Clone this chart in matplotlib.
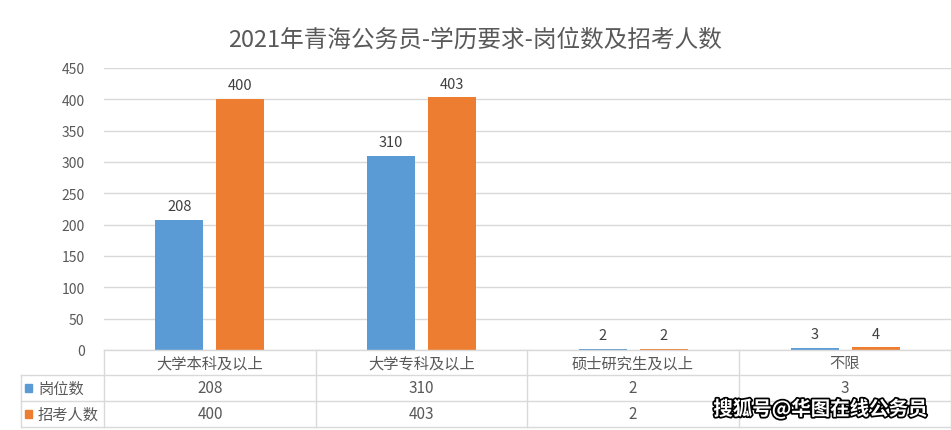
import matplotlib.pyplot as plt
import matplotlib.patheffects as pe
import numpy as np
from matplotlib.lines import Line2D
from matplotlib.patches import Rectangle

plt.rcParams['font.family'] = ['Noto Sans CJK SC', 'DejaVu Sans']

categories = ['大学本科及以上', '大学专科及以上', '硕士研究生及以上', '不限']
series_names = ['岗位数', '招考人数']
posts = [208, 310, 2, 3]
applicants = [400, 403, 2, 4]
yticks = [0, 50, 100, 150, 200, 250, 300, 350, 400, 450]

blue = '#5B9BD5'
orange = '#ED7D31'
txt = '#595959'
grid = '#D9D9D9'

W, H = 951, 431
fig = plt.figure(figsize=(W / 100, H / 100), dpi=100)

def fx(px):
    return px / W

def fy(py):
    return 1 - py / H

ax = fig.add_axes([fx(104), fy(351), fx(951) - fx(104), fy(69) - fy(351)])
x = np.arange(len(categories))
bw = 0.226
off = 0.144
b1 = ax.bar(x - off, posts, bw, color=blue)
b2 = ax.bar(x + off, applicants, bw, color=orange)
for bars, vals in ((b1, posts), (b2, applicants)):
    for r, v in zip(bars, vals):
        ax.annotate(str(v), (r.get_x() + r.get_width() / 2, v), xytext=(0, 5),
                    textcoords='offset points', ha='center', va='bottom',
                    fontsize=10.5, color='#404040')

ax.set_xlim(-0.5, len(categories) - 0.5)
ax.set_ylim(0, 450)
ax.set_yticks(yticks)
ax.set_yticklabels([str(t) for t in yticks], fontsize=10, color=txt)
ax.yaxis.grid(True, color=grid, linewidth=1)
ax.set_axisbelow(True)
ax.set_xticks([])
for s in ax.spines.values():
    s.set_visible(False)
ax.tick_params(axis='y', length=0, pad=14)

fig.text(0.5, fy(40), '2021年青海公务员-学历要求-岗位数及招考人数', ha='center', va='center',
         fontsize=17, color=txt)

# data table under the axis
def hline(y, x0, x1):
    fig.add_artist(Line2D([fx(x0), fx(x1)], [fy(y), fy(y)], color=grid, lw=1))

def vline(xp, y0, y1):
    fig.add_artist(Line2D([fx(xp), fx(xp)], [fy(y0), fy(y1)], color=grid, lw=1))

hline(351, 104, 951)
hline(376, 21, 951)
hline(402, 21, 951)
hline(428, 21, 951)
vline(21, 376, 428)
col_edges = [104, 316, 527, 739, 951]
for xe in col_edges:
    vline(xe, 351, 428)

row_y = [363.5, 389, 415]
for i, c in enumerate(categories):
    cx = (col_edges[i] + col_edges[i + 1]) / 2
    fig.text(fx(cx), fy(row_y[0]), c, ha='center', va='center', fontsize=11, color=txt)
    fig.text(fx(cx), fy(row_y[1]), str(posts[i]), ha='center', va='center', fontsize=11, color=txt)
    # last cell of the second row is hidden under the source stamp in the reference
    if i < len(categories) - 1:
        fig.text(fx(cx), fy(row_y[2]), str(applicants[i]), ha='center', va='center',
                 fontsize=11, color=txt)

for name, col, yy in zip(series_names, (blue, orange), row_y[1:]):
    fig.add_artist(Rectangle((fx(25), fy(yy + 4)), fx(7), fy(yy - 4) - fy(yy + 4),
                             color=col, transform=fig.transFigure))
    fig.text(fx(38), fy(yy), name, ha='left', va='center', fontsize=11, color=txt)

fig.text(fx(928), fy(410), '搜狐号@华图在线公务员', ha='right', va='center', fontsize=14,
         fontweight='bold', color='white',
         path_effects=[pe.withStroke(linewidth=2.5, foreground='black')])

fig.savefig('out.png', dpi=100)
